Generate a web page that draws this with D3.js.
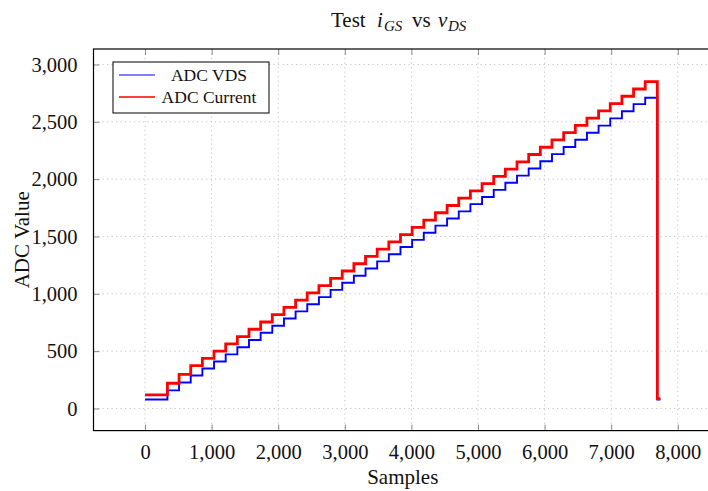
<!DOCTYPE html>
<html>
<head>
<meta charset="utf-8">
<script src="https://cdn.jsdelivr.net/npm/d3@7"></script>
<style>
  html, body { margin: 0; padding: 0; background: #fff; }
  svg { display: block; font-family: "Liberation Serif", "DejaVu Serif", serif; }
</style>
</head>
<body>
<svg id="chart" width="708" height="491"></svg>
<script>
// ---- data ----
const stepStarts = [0, 336, 511, 686, 861, 1036, 1211, 1386, 1561, 1736, 1911, 2086, 2261, 2436, 2611, 2786, 2961, 3136, 3311, 3486, 3661, 3836, 4011, 4186, 4361, 4536, 4711, 4886, 5061, 5236, 5411, 5586, 5761, 5936, 6111, 6286, 6461, 6636, 6811, 6986, 7161, 7336, 7511];
const stepEnd = 7693;
const tailEnd = 7740;
const vdsLevels = [78, 158, 226, 287, 348, 410, 472, 534, 597, 660, 722, 784, 847, 909, 971, 1034, 1096, 1158, 1221, 1283, 1345, 1408, 1470, 1532, 1595, 1657, 1719, 1782, 1844, 1906, 1969, 2031, 2093, 2156, 2218, 2280, 2343, 2405, 2467, 2530, 2592, 2654, 2710];
const currentLevels = [118, 220, 298, 373, 437, 500, 564, 627, 691, 754, 818, 881, 945, 1008, 1072, 1135, 1199, 1262, 1326, 1389, 1453, 1516, 1580, 1643, 1707, 1770, 1834, 1897, 1961, 2024, 2088, 2151, 2215, 2278, 2342, 2405, 2469, 2532, 2596, 2659, 2723, 2786, 2850];
const vdsTail = 78;
const currentTail = 85;
const xTicks = [0, 1000, 2000, 3000, 4000, 5000, 6000, 7000, 8000];
const yTicks = [0, 500, 1000, 1500, 2000, 2500, 3000];
const seriesNames = ["ADC VDS", "ADC Current"];
const seriesColors = ["#0000ff", "#ff0000"];

// ---- layout ----
const svg = d3.select("#chart");
const pL = 93.5, pR = 712, pT = 49, pB = 430.6;
const x = d3.scaleLinear().domain([-774, 8514]).range([pL, pR]);
const y = d3.scaleLinear().domain([-193, 3135]).range([pB, pT]);
const fmt = d3.format(",");

// grid
const grid = svg.append("g");
grid.selectAll("line.gx").data(xTicks).join("line").attr("class", "gx")
  .attr("x1", d => x(d)).attr("x2", d => x(d)).attr("y1", pT).attr("y2", pB)
  .attr("stroke", "#c4c4c4").attr("stroke-width", 1).attr("stroke-dasharray", "1.2,3.3");
grid.selectAll("line.gy").data(yTicks).join("line").attr("class", "gy")
  .attr("y1", d => y(d)).attr("y2", d => y(d)).attr("x1", pL).attr("x2", pR)
  .attr("stroke", "#c4c4c4").attr("stroke-width", 1).attr("stroke-dasharray", "1.2,3.3");

// inward ticks via d3 axes
const axB = svg.append("g").attr("transform", `translate(0,${pB})`)
  .call(d3.axisBottom(x).tickValues(xTicks).tickSize(-6).tickFormat(fmt).tickPadding(14));
const axT = svg.append("g").attr("transform", `translate(0,${pT})`)
  .call(d3.axisTop(x).tickValues(xTicks).tickSize(-6).tickFormat(""));
const axL = svg.append("g").attr("transform", `translate(${pL},0)`)
  .call(d3.axisLeft(y).tickValues(yTicks).tickSize(-6).tickFormat(fmt).tickPadding(16));
[axB, axT, axL].forEach(g => {
  g.select(".domain").remove();
  g.selectAll(".tick line").attr("stroke", "#8a8a8a").attr("stroke-width", 1);
  g.selectAll("text").attr("font-family", "Liberation Serif").attr("font-size", 20.5).attr("fill", "#111");
});
axB.selectAll("text").attr("dy", "0.71em");

// series
function seriesPoints(levels, tail) {
  const pts = stepStarts.map((s, i) => [s, levels[i]]);
  pts.push([stepEnd, tail]);
  pts.push([tailEnd, tail]);
  return pts;
}
const line = d3.line().x(d => x(d[0])).y(d => y(d[1])).curve(d3.curveStepAfter);
svg.append("path").attr("d", line(seriesPoints(vdsLevels, vdsTail)))
  .attr("fill", "none").attr("stroke", seriesColors[0]).attr("stroke-width", 1.9);
svg.append("path").attr("d", line(seriesPoints(currentLevels, currentTail)))
  .attr("fill", "none").attr("stroke", seriesColors[1]).attr("stroke-width", 2.8);

// frame
svg.append("rect").attr("x", pL).attr("y", pT).attr("width", pR - pL).attr("height", pB - pT)
  .attr("fill", "none").attr("stroke", "#000").attr("stroke-width", 1.2);

// legend
const lg = svg.append("g");
lg.append("rect").attr("x", 113).attr("y", 62).attr("width", 156).attr("height", 51)
  .attr("fill", "#fff").attr("stroke", "#000").attr("stroke-width", 1);
const ly = [75, 97];
seriesNames.forEach((n, i) => {
  lg.append("line").attr("x1", 119).attr("x2", 155).attr("y1", ly[i]).attr("y2", ly[i])
    .attr("stroke", seriesColors[i]).attr("stroke-width", i === 0 ? 1.2 : 1.6);
  lg.append("text").attr("x", 209).attr("y", ly[i] + 5.5).attr("text-anchor", "middle")
    .attr("font-size", 17.5).attr("fill", "#111").text(n);
});

// axis labels
svg.append("text").attr("x", (pL + pR) / 2).attr("y", 484).attr("text-anchor", "middle")
  .attr("font-size", 21).attr("fill", "#111").text("Samples");
svg.append("text").attr("transform", `translate(29,${(pT + pB) / 2}) rotate(-90)`)
  .attr("text-anchor", "middle").attr("font-size", 21).attr("fill", "#111").text("ADC Value");

// title
const t = svg.append("text").attr("y", 27).attr("font-size", 21).attr("fill", "#111");
t.append("tspan").attr("x", 331).text("Test");
t.append("tspan").attr("x", 377).attr("font-style", "italic").text("i");
t.append("tspan").attr("x", 384).attr("font-style", "italic").attr("font-size", 15).attr("dy", 4).text("GS");
t.append("tspan").attr("x", 412).attr("dy", -4).text("vs");
t.append("tspan").attr("x", 438).attr("font-style", "italic").text("v");
t.append("tspan").attr("x", 448).attr("font-style", "italic").attr("font-size", 15).attr("dy", 4).text("DS");
</script>
</body>
</html>
